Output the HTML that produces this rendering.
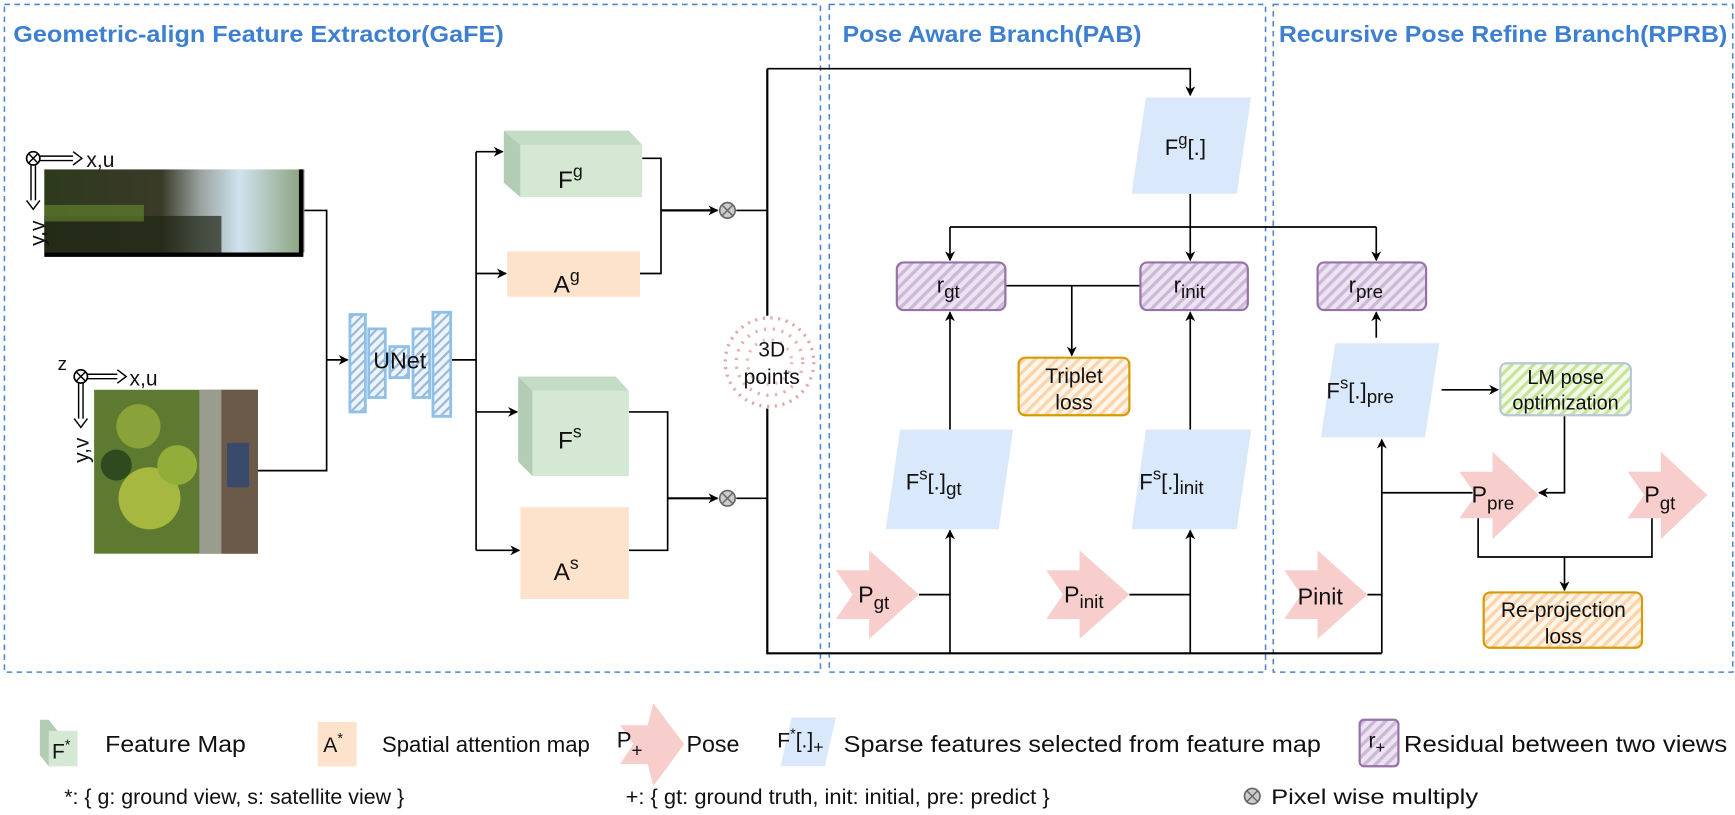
<!DOCTYPE html>
<html><head><meta charset="utf-8"><style>
html,body{margin:0;padding:0;background:#fff;}
svg{display:block;}
text{font-family:"Liberation Sans",sans-serif;fill:#111;}
</style></head><body>
<svg width="1735" height="815" viewBox="0 0 1567 736" preserveAspectRatio="none" xmlns="http://www.w3.org/2000/svg">
<defs>
<pattern id="hp" width="7" height="7" patternUnits="userSpaceOnUse" patternTransform="rotate(45)"><rect width="7" height="7" fill="#ece4f1"/><rect width="3" height="7" fill="#cdb8da"/></pattern>
<pattern id="ho" width="7" height="7" patternUnits="userSpaceOnUse" patternTransform="rotate(45)"><rect width="7" height="7" fill="#fff6ea"/><rect width="3" height="7" fill="#fbd3ad"/></pattern>
<pattern id="hg" width="7" height="7" patternUnits="userSpaceOnUse" patternTransform="rotate(45)"><rect width="7" height="7" fill="#f4fbe8"/><rect width="3" height="7" fill="#c7e59a"/></pattern>
<pattern id="hb" width="6" height="6" patternUnits="userSpaceOnUse" patternTransform="rotate(45)"><rect width="6" height="6" fill="#eef4fb"/><rect width="2" height="6" fill="#9ab8d8"/></pattern>
<marker id="ar" viewBox="0 0 10 10" refX="9" refY="5" markerWidth="9" markerHeight="9" orient="auto" markerUnits="userSpaceOnUse"><path d="M0,0 L10,5 L0,10 L3,5 z" fill="#000"/></marker>
<linearGradient id="gimg" x1="0" x2="1"><stop offset="0" stop-color="#2d3a1c"/><stop offset="0.45" stop-color="#3a3a28"/><stop offset="0.6" stop-color="#9aa3a0"/><stop offset="0.75" stop-color="#cfe3ef"/><stop offset="1" stop-color="#8aa07a"/></linearGradient>
</defs>

<g fill="none" stroke="#4a86d0" stroke-width="1.4" stroke-dasharray="5,4">
<rect x="4" y="4" width="737" height="603"/>
<rect x="749" y="4" width="394" height="603"/>
<rect x="1150" y="4" width="415" height="603"/>
</g>
<g font-weight="bold" font-size="21">
<text x="12" y="38" style="fill:#3d7fd0" textLength="443" lengthAdjust="spacingAndGlyphs">Geometric-align Feature Extractor(GaFE)</text>
<text x="761" y="38" style="fill:#3d7fd0" textLength="270" lengthAdjust="spacingAndGlyphs">Pose Aware Branch(PAB)</text>
<text x="1155" y="38" style="fill:#3d7fd0" textLength="405" lengthAdjust="spacingAndGlyphs">Recursive Pose Refine Branch(RPRB)</text>
</g>

<rect x="40" y="153" width="235" height="75" fill="url(#gimg)"/>
<rect x="40" y="195" width="160" height="33" fill="#1f2516" opacity="0.7"/>
<rect x="40" y="185" width="90" height="15" fill="#6a8a30" opacity="0.6"/>
<path d="M272 153 V230 H40" stroke="#000" stroke-width="4" fill="none"/>
<circle cx="30" cy="143" r="6" fill="#fff" stroke="#000" stroke-width="1.5"/>
<path d="M26 139 l8 8 M34 139 l-8 8" stroke="#000" stroke-width="1.3"/>
<path d="M36 141 H68 M36 145 H68" stroke="#000" stroke-width="1.3"/><path d="M66 137 L74 143 L66 149" fill="#fff" stroke="#000" stroke-width="1.3"/>
<path d="M28 149 V183 M32 149 V183" stroke="#000" stroke-width="1.3"/><path d="M24 181 L30 189 L36 181" fill="#fff" stroke="#000" stroke-width="1.3"/>
<text x="78" y="151" font-size="19">x,u</text>
<text x="0" y="0" font-size="19" transform="translate(40,222) rotate(-90)">y,v</text>

<rect x="85" y="352" width="148" height="148" fill="#5d7a30"/>
<rect x="180" y="352" width="20" height="148" fill="#9a9c90"/>
<rect x="200" y="352" width="33" height="148" fill="#6b5a4a"/>
<rect x="205" y="400" width="20" height="40" fill="#3a4a6a"/>
<circle cx="135" cy="450" r="28" fill="#a6b840"/><circle cx="125" cy="385" r="20" fill="#8aa23a"/><circle cx="160" cy="420" r="18" fill="#93ad3a"/>
<circle cx="105" cy="420" r="14" fill="#2f4a1e"/>
<circle cx="73" cy="340" r="6" fill="#fff" stroke="#000" stroke-width="1.5"/>
<path d="M69 336 l8 8 M77 336 l-8 8" stroke="#000" stroke-width="1.3"/>
<path d="M79 338 H108 M79 342 H108" stroke="#000" stroke-width="1.3"/><path d="M106 334 L114 340 L106 346" fill="#fff" stroke="#000" stroke-width="1.3"/>
<path d="M71 346 V380 M75 346 V380" stroke="#000" stroke-width="1.3"/><path d="M67 378 L73 386 L79 378" fill="#fff" stroke="#000" stroke-width="1.3"/>
<text x="52" y="334" font-size="17">z</text>
<text x="117" y="348" font-size="19">x,u</text>
<text x="0" y="0" font-size="19" transform="translate(80,418) rotate(-90)">y,v</text>

<g stroke="#000" stroke-width="1.5" fill="none">
<path d="M275 190 H295 V425 H233"/>
<path d="M295 325 H314" marker-end="url(#ar)"/>
<path d="M408 325 H430"/>
<path d="M430 137 V497"/>
<path d="M430 137 H454" marker-end="url(#ar)"/>
<path d="M430 247 H457" marker-end="url(#ar)"/>
<path d="M430 372 H467" marker-end="url(#ar)"/>
<path d="M430 497 H469" marker-end="url(#ar)"/>
<path d="M580 143 H597 V247 H578"/>
<path d="M597 190 H648" stroke-width="2" marker-end="url(#ar)"/>
<path d="M568 372 H603 V497 H568"/>
<path d="M603 450 H648" stroke-width="2" marker-end="url(#ar)"/>
<path d="M665 190 H693 M665 450 H693"/>
<path d="M693 62 V590 H1248" stroke-width="2"/>
<path d="M693 62 H1075 V86" marker-end="url(#ar)"/>
</g>

<g fill="url(#hb)" stroke="#8fc0ea" stroke-width="2.5">
<rect x="316" y="284" width="14" height="88"/>
<rect x="333" y="297" width="15" height="62"/>
<rect x="352" y="313" width="17" height="28"/>
<rect x="373" y="297" width="15" height="62"/>
<rect x="391" y="282" width="16" height="94"/>
</g>
<text x="361" y="333" font-size="21" text-anchor="middle">UNet</text>

<polygon points="455,118 568,118 580,131 470,131" fill="#c4dcc5"/>
<polygon points="455,118 470,131 470,178 455,165" fill="#b3cdb4"/>
<rect x="470" y="131" width="110" height="47" fill="#d5e8d4"/>
<text x="504" y="170" font-size="22">F<tspan font-size="16" dy="-10">g</tspan></text>
<rect x="458" y="227" width="120" height="41" fill="#fde3cb"/>
<text x="500" y="264" font-size="22">A<tspan font-size="16" dy="-10">g</tspan></text>
<polygon points="468,340 556,340 568,353 481,353" fill="#c4dcc5"/>
<polygon points="468,340 481,353 481,430 468,417" fill="#b3cdb4"/>
<rect x="481" y="353" width="87" height="77" fill="#d5e8d4"/>
<text x="504" y="405" font-size="22">F<tspan font-size="16" dy="-10">s</tspan></text>
<rect x="470" y="458" width="98" height="83" fill="#fde3cb"/>
<text x="500" y="524" font-size="22">A<tspan font-size="16" dy="-10">s</tspan></text>

<g><circle cx="657" cy="190" r="7" fill="#ccc" stroke="#666" stroke-width="1.5"/><path d="M652 185 l10 10 M662 185 l-10 10" stroke="#666" stroke-width="1.3"/></g>
<g><circle cx="657" cy="450" r="7" fill="#ccc" stroke="#666" stroke-width="1.5"/><path d="M652 445 l10 10 M662 445 l-10 10" stroke="#666" stroke-width="1.3"/></g>

<circle cx="695" cy="327" r="42" fill="#fff"/>
<circle cx="695" cy="327" r="40" fill="none" stroke="#e2a8a8" stroke-width="3" stroke-dasharray="2,5"/>
<circle cx="695" cy="327" r="30" fill="none" stroke="#e6b0b0" stroke-width="3" stroke-dasharray="2,6"/>
<circle cx="695" cy="327" r="20" fill="none" stroke="#ebbcbc" stroke-width="3" stroke-dasharray="2,6"/>
<text x="697" y="322" font-size="19" text-anchor="middle">3D</text>
<text x="697" y="347" font-size="19" text-anchor="middle">points</text>

<g stroke="#000" stroke-width="1.5" fill="none">
<path d="M1075 175 V235" marker-end="url(#ar)"/>
<path d="M858 205 H1243"/>
<path d="M858 205 V235" marker-end="url(#ar)"/>
<path d="M1243 205 V235" marker-end="url(#ar)"/>
<path d="M908 258 H1030"/>
<path d="M968 258 V321" marker-end="url(#ar)"/>
<path d="M858 388 V282" marker-end="url(#ar)"/>
<path d="M1075 388 V282" marker-end="url(#ar)"/>
<path d="M1243 305 V282" marker-end="url(#ar)"/>
<path d="M858 590 V479" marker-end="url(#ar)"/>
<path d="M1075 590 V479" marker-end="url(#ar)"/>
<path d="M1248 590 V397" marker-end="url(#ar)"/>
<path d="M830 537 H858 M1020 537 H1075 M1235 537 H1248"/>
<path d="M1302 352 H1353" marker-end="url(#ar)"/>
<path d="M1413 375 V445 H1390" marker-end="url(#ar)"/>
<path d="M1330 445 H1248"/>
<path d="M1335 465 V503 H1492 V465"/>
<path d="M1413 503 V533" marker-end="url(#ar)"/>
</g>

<g fill="#dae8fc">
<polygon points="1035,88 1130,88 1117,175 1022,175"/>
<polygon points="813,388 915,388 902,478 800,478"/>
<polygon points="1035,388 1130,388 1117,478 1022,478"/>
<polygon points="1206,310 1300,310 1287,395 1193,395"/>
</g>
<text x="1052" y="140" font-size="20">F<tspan font-size="15" dy="-9">g</tspan><tspan dy="9">[.]</tspan></text>
<text x="818" y="442" font-size="20">F<tspan font-size="15" dy="-9">s</tspan><tspan dy="9">[.]</tspan><tspan font-size="17" dy="5">gt</tspan></text>
<text x="1029" y="442" font-size="20">F<tspan font-size="15" dy="-9">s</tspan><tspan dy="9">[.]</tspan><tspan font-size="17" dy="4">init</tspan></text>
<text x="1198" y="360" font-size="20">F<tspan font-size="15" dy="-9">s</tspan><tspan dy="9">[.]</tspan><tspan font-size="17" dy="4">pre</tspan></text>

<g fill="url(#hp)" stroke="#9673a6" stroke-width="2">
<rect x="810" y="237" width="98" height="43" rx="6"/>
<rect x="1030" y="237" width="97" height="43" rx="6"/>
<rect x="1190" y="237" width="98" height="43" rx="6"/>
</g>
<text x="846" y="264" font-size="20">r<tspan font-size="17" dy="5">gt</tspan></text>
<text x="1060" y="264" font-size="20">r<tspan font-size="17" dy="5">init</tspan></text>
<text x="1218" y="264" font-size="20">r<tspan font-size="17" dy="5">pre</tspan></text>

<rect x="920" y="323" width="100" height="52" rx="6" fill="url(#ho)" stroke="#d79b00" stroke-width="2"/>
<text x="970" y="346" font-size="19" text-anchor="middle">Triplet</text>
<text x="970" y="370" font-size="19" text-anchor="middle">loss</text>
<rect x="1355" y="328" width="118" height="47" rx="6" fill="url(#hg)" stroke="#b8c8d8" stroke-width="2"/>
<text x="1414" y="347" font-size="18" text-anchor="middle">LM pose</text>
<text x="1414" y="370" font-size="18" text-anchor="middle">optimization</text>
<rect x="1340" y="535" width="143" height="50" rx="6" fill="url(#ho)" stroke="#d79b00" stroke-width="2"/>
<text x="1412" y="557" font-size="19" text-anchor="middle">Re-projection</text>
<text x="1412" y="581" font-size="19" text-anchor="middle">loss</text>

<g fill="#f8cecc">
<polygon points="755,515 785,515 785,497 830,537 785,577 785,559 755,559 770,537"/>
<polygon points="945,515 975,515 975,497 1020,537 975,577 975,559 945,559 960,537"/>
<polygon points="1160,515 1190,515 1190,497 1235,537 1190,577 1190,559 1160,559 1175,537"/>
<polygon points="1318,426 1348,426 1348,408 1390,447 1348,487 1348,468 1318,468 1333,447"/>
<polygon points="1470,426 1500,426 1500,408 1542,447 1500,487 1500,468 1470,468 1485,447"/>
</g>
<text x="775" y="544" font-size="21">P<tspan font-size="17" dy="6">gt</tspan></text>
<text x="961" y="544" font-size="21">P<tspan font-size="17" dy="5">init</tspan></text>
<text x="1172" y="546" font-size="21">Pinit</text>
<text x="1329" y="454" font-size="21">P<tspan font-size="17" dy="6">pre</tspan></text>
<text x="1485" y="454" font-size="21">P<tspan font-size="17" dy="6">gt</tspan></text>

<polygon points="36,650 44,650 52,660 52,692 44,692 36,682" fill="#b3cdb4"/>
<rect x="44" y="660" width="26" height="32" fill="#d5e8d4"/>
<text x="47" y="685" font-size="19">F<tspan font-size="13" dy="-8">*</tspan></text>
<text x="95" y="679" font-size="21" textLength="127" lengthAdjust="spacingAndGlyphs">Feature Map</text>
<rect x="287" y="652" width="35" height="40" fill="#fde3cb"/>
<text x="292" y="679" font-size="19">A<tspan font-size="13" dy="-8">*</tspan></text>
<text x="345" y="679" font-size="20">Spatial attention map</text>
<polygon points="560,655 585,655 590,635 618,672 590,710 585,690 560,690 572,672" fill="#f8cecc"/>
<text x="557" y="675" font-size="20">P<tspan font-size="17" dy="8">+</tspan></text>
<text x="620" y="679" font-size="21">Pose</text>
<polygon points="715,648 755,648 745,692 705,692" fill="#dae8fc"/>
<text x="702" y="675" font-size="19">F<tspan font-size="13" dy="-8">*</tspan><tspan dy="8">[.]</tspan><tspan font-size="16" dy="5">+</tspan></text>
<text x="762" y="679" font-size="21" textLength="431" lengthAdjust="spacingAndGlyphs">Sparse features selected from feature map</text>
<rect x="1228" y="650" width="35" height="42" rx="4" fill="url(#hp)" stroke="#9673a6" stroke-width="2"/>
<text x="1236" y="675" font-size="19">r<tspan font-size="15" dy="5">+</tspan></text>
<text x="1268" y="679" font-size="21" textLength="292" lengthAdjust="spacingAndGlyphs">Residual between two views</text>
<text x="58" y="726" font-size="19" textLength="307" lengthAdjust="spacingAndGlyphs">*: { g: ground view, s: satellite view }</text>
<text x="565" y="726" font-size="19" textLength="383" lengthAdjust="spacingAndGlyphs">+: { gt: ground truth, init: initial, pre: predict }</text>
<circle cx="1131" cy="719" r="7" fill="#ccc" stroke="#666" stroke-width="1.5"/><path d="M1126 714 l10 10 M1136 714 l-10 10" stroke="#666" stroke-width="1.3"/>
<text x="1148" y="726" font-size="19" textLength="187" lengthAdjust="spacingAndGlyphs">Pixel wise multiply</text>
</svg>
</body></html>
